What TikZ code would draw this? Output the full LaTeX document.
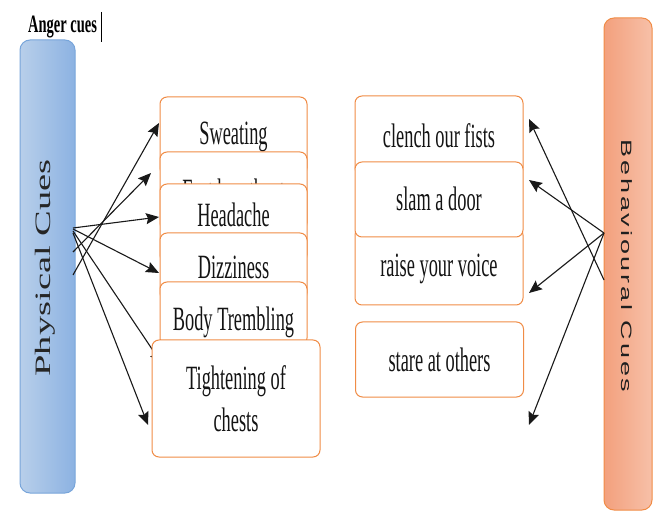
\documentclass[tikz,border=0pt]{standalone}
\usepackage{fontspec}
\setmainfont{Liberation Serif}
\newfontfamily\cond[FakeStretch=0.54]{Liberation Serif}
\newfontfamily\condb[FakeStretch=0.58]{Liberation Serif}
\newfontfamily\widef[FakeStretch=1.75]{Liberation Serif}
\newfontfamily\wsans[FakeStretch=1.8,LetterSpace=19]{Liberation Sans}
\usetikzlibrary{arrows.meta}
\definecolor{obrd}{RGB}{240,140,70}
\definecolor{bbrd}{RGB}{120,165,218}
\definecolor{bleft}{RGB}{184,207,234}
\definecolor{bright}{RGB}{140,178,226}
\definecolor{oleft}{RGB}{243,160,125}
\definecolor{oright}{RGB}{247,192,168}
\tikzset{
  obox/.style={draw=obrd, line width=1pt, fill=white, rounded corners=7pt, inner sep=0pt},
  btxt/.style={font=\cond\fontsize{34}{42}\selectfont, text=black!92, anchor=base, inner sep=0pt},
  arr/.style={-{Stealth[length=13pt,width=11pt,inset=2pt]}, line width=1.1pt, black!90},
}
\begin{document}
\begin{tikzpicture}[x=1pt,y=-1pt]
\useasboundingbox (0,0) rectangle (654,513);

% title
\node[font=\condb\bfseries\fontsize{25}{28}\selectfont, anchor=base west, inner sep=0pt] (title) at (28,33) {Anger cues};
\draw[line width=1pt] (101,12) -- (101,42);

% side boxes
\node[draw=bbrd, line width=1pt, rounded corners=10pt, left color=bleft, right color=bright,
      minimum width=55pt, minimum height=453pt, inner sep=0pt] (pc) at (47.5,266.5) {};
\node[rotate=90, font=\widef\fontsize{22}{22}\selectfont, text=black!85, inner sep=0pt] (pctxt) at (45.5,268) {Physical Cues};

\node[draw=obrd, line width=1pt, rounded corners=10pt, left color=oleft, right color=oright,
      minimum width=48pt, minimum height=492pt, inner sep=0pt] (bc) at (628,264) {};
\node[rotate=-90, font=\wsans\fontsize{15}{15}\selectfont, text=black!88, inner sep=0pt] (bctxt) at (626.5,266) {Behavioural Cues};

% arrow ends
\coordinate (pA) at (73,228);
\coordinate (pA2) at (73,229);
\coordinate (pA3) at (73,231);
\coordinate (pA4) at (73,233);
\coordinate (pB) at (73,252);
\coordinate (pC) at (73,275);
\coordinate (t1) at (159,123);
\coordinate (t2) at (151,173);
\coordinate (t3) at (159,217);
\coordinate (t4) at (159,273);
\coordinate (t5) at (162,364);
\coordinate (t6) at (148,425);
\coordinate (qA) at (604,233);
\coordinate (qB) at (604,280);
\coordinate (u1) at (529,119);
\coordinate (u2) at (529,180);
\coordinate (u3) at (529,293);
\coordinate (u4) at (529,425);

\draw[arr] (pC) -- (t1);
\draw[arr] (pB) -- (t2);
\draw[arr] (pA) -- (t3);
\draw[arr] (pA2) -- (t4);
\draw[arr] (pA3) -- (t5);
\draw[arr] (pA4) -- (t6);
\draw[arr] (qB) -- (u1);
\draw[arr] (qA) -- (u2);
\draw[arr] (qA) -- (u3);
\draw[arr] (qA) -- (u4);

% left boxes
\node[obox, minimum width=147pt, minimum height=78pt] (b1) at (233.5,136) {};
\node[btxt] (b1t) at (233.5,145) {Sweating};
\node[obox, minimum width=147pt, minimum height=78pt] (b2) at (233.5,191) {};
\node[btxt] (b2t) at (233.5,203) {Fast heartbeat};
\node[obox, minimum width=147pt, minimum height=78pt] (b3) at (233.5,223) {};
\node[btxt] (b3t) at (233.5,227) {Headache};
\node[obox, minimum width=147pt, minimum height=67pt] (b4) at (233.5,266.5) {};
\node[btxt] (b4t) at (233.5,279) {Dizziness};
\node[obox, minimum width=147pt, minimum height=63pt] (b5) at (233.5,313.5) {};
\node[btxt] (b5t) at (233.5,331) {Body Trembling};
\node[obox, minimum width=168pt, minimum height=117pt, align=center,
      font=\cond\fontsize{34}{42}\selectfont, text=black!92] (b6) at (236,398.5) {Tightening of\\chests};

% right boxes
\node[obox, minimum width=168pt, minimum height=79pt] (r1) at (439,135.5) {};
\node[btxt] (r1t) at (439,148) {clench our fists};
\node[obox, minimum width=168pt, minimum height=77pt] (r3) at (439,266.5) {};
\node[btxt] (r3t) at (439,277) {raise your voice};
\node[obox, minimum width=168pt, minimum height=75pt] (r2) at (439,199.5) {};
\node[btxt] (r2t) at (439,211) {slam a door};
\node[obox, minimum width=168pt, minimum height=75pt] (r4) at (439.5,359.5) {};
\node[btxt] (r4t) at (439.5,372) {stare at others};
\end{tikzpicture}
\end{document}
